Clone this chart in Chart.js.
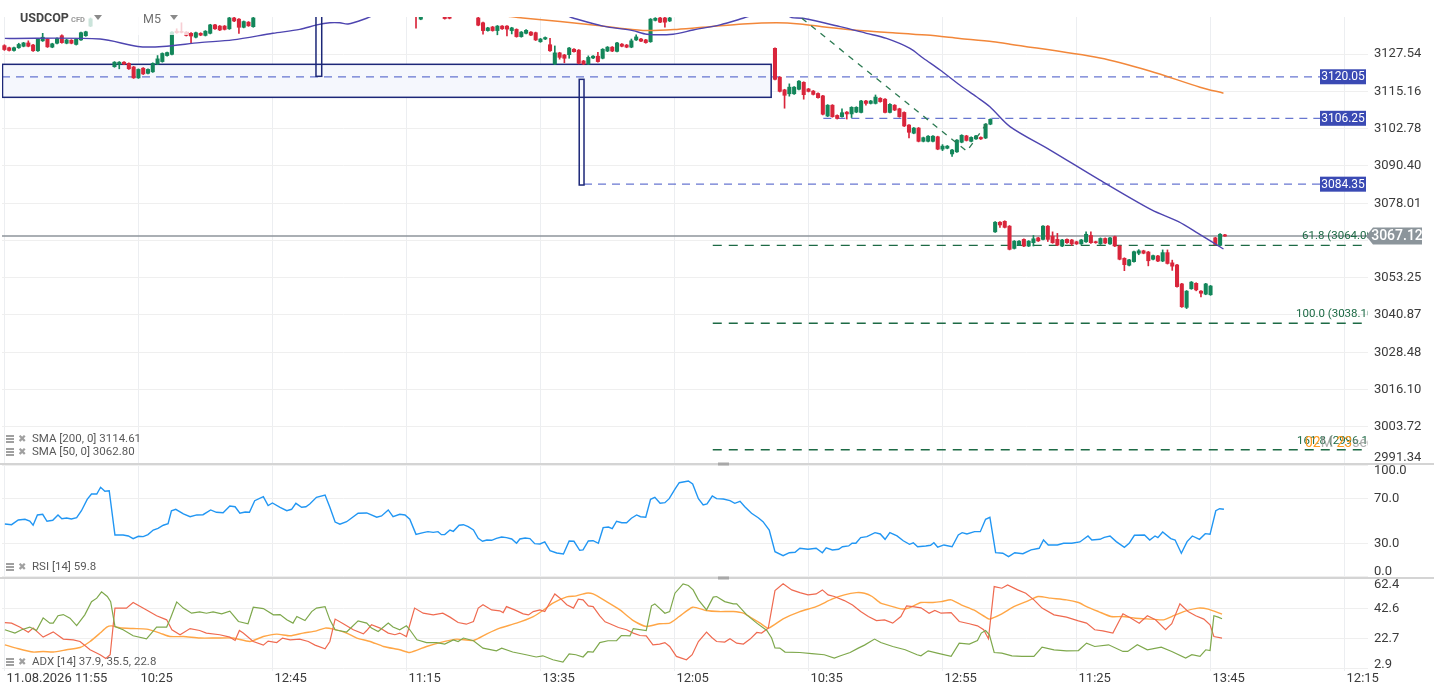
<!DOCTYPE html>
<html>
<head>
<meta charset="utf-8">
<script src="https://cdn.jsdelivr.net/npm/chart.js@4.4.1/dist/chart.umd.min.js"></script>
<style>
  html, body { margin: 0; padding: 0; background: #fff; }
</style>
</head>
<body>
<canvas id="chart" width="1434" height="694"></canvas>
<script>
// 5-minute candle slots (x index) and prices
const candleIdx = [
  0,1,2,3,4,5,6,7,8,9,10,11,12,13,14,15,16,17,18,
  23,24,25,26,27,28,29,30,31,32,33,34,35,36,37,38,39,40,41,42,43,44,45,46,47,48,49,50,51,52,
  86,87,92,93,
  99,100,101,102,103,104,105,106,107,108,109,110,111,112,113,114,115,116,117,118,119,
  120,121,122,123,124,125,126,127,128,129,130,131,132,133,134,135,136,137,138,139,
  161,162,163,164,165,166,167,168,169,170,171,172,173,174,175,176,177,178,179,180,
  181,182,183,184,185,186,187,188,189,190,191,192,193,194,195,196,197,198,199,200,
  201,202,203,204,205,206,207,208,209,210,211,212,213,214,215,216,217,218,219,220,
  221,222,223,224,225,226,227,228,229,230,231,232,233,234,235,236,237,238,239,240,
  241,242,243,244,245,246,247,248,249,250,251,252,253,254,255
];
const opens = [
  3130.4,3129.7,3128.8,3129.7,3130.2,3131.3,3130.6,3128.7,3132.0,3132.6,3129.9,3131.2,3133.7,3131.2,3132.2,3130.8,3132.3,3133.7,3136.9,
  3123.4,3124.2,3124.9,3124.5,3123.3,3119.7,3122.9,3121.2,3121.7,3124.3,3125.1,3127.1,3127.5,3135.2,3135.0,3134.9,3134.5,3133.2,3134.5,3133.8,3134.5,3137.3,3136.9,3136.9,3136.0,3139.6,3139.2,3136.5,3138.2,3136.7,
  3142.0,3139.2,3141.0,3141.0,
  3139.6,3138.0,3135.4,3136.6,3135.4,3136.9,3136.9,3135.4,3135.8,3133.4,3134.5,3134.9,3134.7,3131.7,3132.6,3130.7,3124.3,3128.0,3127.3,3127.4,3129.2,
  3128.9,3125.3,3124.3,3126.3,3126.9,3126.2,3128.6,3129.9,3128.5,3130.9,3130.6,3129.9,3132.3,3132.6,3132.3,3131.7,3138.8,3139.6,3139.6,3138.6,
  3129.5,3119.9,3115.7,3114.4,3114.4,3115.9,3118.2,3116.0,3115.3,3114.5,3113.7,3107.0,3110.6,3107.2,3106.8,3108.3,3107.7,3108.3,3108.2,3112.0,
  3111.2,3111.2,3112.9,3112.6,3108.2,3110.6,3109.4,3108.2,3104.0,3101.3,3103.0,3098.6,3098.6,3098.6,3100.1,3096.0,3096.3,3094.4,3095.1,3098.3,
  3100.4,3098.6,3099.4,3099.9,3099.7,3104.3,3068.5,3071.7,3072.0,3070.4,3063.0,3064.1,3066.0,3063.8,3064.9,3066.5,3066.0,3070.4,3067.1,3066.0,
  3063.8,3066.0,3065.8,3065.2,3064.5,3065.2,3067.3,3065.2,3064.5,3066.3,3064.5,3066.9,3063.8,3059.7,3057.4,3058.6,3061.4,3062.2,3061.8,3059.4,
  3060.5,3058.8,3061.6,3058.2,3057.5,3051.2,3043.4,3049.6,3051.4,3048.8,3047.8,3047.6,3066.5,3064.0,3067.5
];
const highs = [
  3130.7,3129.9,3129.9,3131.2,3131.5,3132.0,3130.8,3132.8,3134.5,3132.8,3131.2,3133.0,3134.0,3132.5,3132.4,3132.7,3134.9,3135.2,3139.6,
  3125.1,3125.1,3125.1,3124.7,3123.5,3122.7,3123.1,3122.7,3124.7,3127.1,3128.0,3128.3,3135.1,3136.0,3138.0,3135.1,3134.7,3134.9,3134.7,3135.4,3137.5,3137.5,3137.1,3137.1,3139.8,3140.5,3139.4,3138.6,3138.4,3139.8,
  3144.0,3142.0,3142.0,3141.8,
  3141.0,3138.2,3136.5,3136.8,3137.1,3137.1,3137.1,3136.5,3136.0,3135.1,3135.7,3135.1,3134.9,3132.8,3133.3,3132.8,3130.3,3128.2,3127.5,3129.8,3129.4,
  3129.1,3125.5,3127.0,3127.1,3128.2,3129.4,3130.1,3130.1,3131.5,3131.1,3130.8,3132.6,3134.0,3132.8,3132.5,3139.4,3139.7,3139.8,3139.8,3139.8,
  3129.7,3120.1,3115.9,3117.7,3116.8,3118.8,3118.4,3116.2,3115.5,3114.7,3113.9,3110.8,3110.8,3107.4,3109.4,3108.5,3110.1,3110.1,3112.2,3112.2,
  3112.2,3114.0,3113.1,3112.8,3111.1,3110.8,3109.6,3108.4,3104.2,3103.2,3103.2,3100.0,3100.5,3100.5,3100.3,3097.5,3097.2,3095.9,3099.2,3100.8,
  3100.6,3100.1,3100.6,3100.1,3104.5,3106.1,3071.9,3071.9,3072.2,3070.6,3065.6,3065.6,3066.2,3065.6,3067.3,3066.7,3070.6,3070.6,3068.5,3068.0,
  3066.0,3066.2,3066.0,3065.4,3066.0,3068.5,3068.5,3065.4,3066.5,3066.5,3066.7,3067.1,3064.0,3059.9,3059.4,3062.1,3062.6,3062.4,3062.0,3060.8,
  3060.7,3062.5,3062.5,3059.1,3057.7,3051.4,3049.0,3052.0,3051.6,3049.0,3051.4,3050.7,3066.7,3067.9,3067.7
];
const lows = [
  3128.8,3128.6,3128.6,3129.5,3130.0,3130.0,3128.5,3128.5,3131.8,3129.8,3129.7,3131.0,3131.2,3131.0,3131.0,3130.6,3132.1,3133.5,3136.7,
  3123.2,3122.7,3124.1,3122.5,3119.5,3119.5,3120.8,3121.0,3121.5,3124.1,3124.9,3126.9,3127.3,3134.5,3134.6,3133.6,3131.2,3133.0,3133.7,3133.6,3134.3,3135.8,3135.4,3135.6,3135.8,3138.4,3134.5,3136.3,3136.8,3136.5,
  3136.2,3139.0,3139.2,3139.3,
  3137.0,3134.2,3135.2,3135.2,3134.0,3135.8,3133.6,3134.3,3133.2,3133.2,3134.3,3133.7,3132.1,3131.5,3132.4,3128.5,3124.1,3125.9,3124.7,3126.2,3128.2,
  3124.3,3124.1,3124.1,3126.1,3124.9,3126.0,3128.4,3128.4,3128.3,3130.0,3129.7,3129.7,3132.1,3131.7,3131.2,3131.5,3138.6,3138.0,3136.5,3138.4,
  3119.0,3115.0,3109.6,3113.6,3114.2,3115.7,3112.6,3115.0,3114.0,3112.9,3107.4,3106.8,3106.6,3106.0,3106.6,3106.0,3106.5,3108.1,3108.0,3110.6,
  3111.0,3111.0,3111.6,3108.0,3108.0,3108.8,3106.6,3103.5,3099.7,3101.1,3098.4,3098.4,3098.4,3098.4,3095.8,3095.5,3096.1,3093.6,3094.9,3098.1,
  3098.7,3098.4,3099.2,3099.2,3099.5,3104.1,3068.3,3070.0,3069.8,3062.5,3062.8,3063.9,3063.6,3063.6,3063.8,3065.3,3065.8,3065.3,3064.7,3063.9,
  3063.6,3064.7,3064.0,3064.3,3064.3,3065.0,3064.7,3064.7,3064.3,3064.6,3064.3,3063.6,3059.2,3055.6,3057.2,3058.4,3060.9,3061.2,3057.2,3059.2,
  3058.6,3058.6,3057.8,3055.7,3050.1,3043.4,3043.0,3049.4,3048.9,3046.9,3047.6,3047.4,3064.1,3063.8,3067.0
];
const closes = [
  3129.1,3128.8,3129.7,3130.8,3131.3,3130.2,3128.7,3132.6,3133.2,3130.0,3131.0,3132.8,3131.4,3132.3,3131.2,3132.5,3134.7,3135.0,3139.3,
  3124.9,3124.9,3124.3,3122.7,3119.7,3122.5,3121.0,3122.5,3124.5,3126.0,3127.8,3128.1,3134.9,3134.7,3134.8,3133.8,3133.6,3134.7,3133.9,3135.2,3137.3,3136.0,3135.6,3135.8,3139.6,3138.6,3136.5,3138.4,3137.0,3139.6,
  3140.5,3141.0,3139.4,3139.5,
  3137.2,3135.4,3136.3,3135.4,3136.9,3136.0,3135.9,3136.3,3133.4,3134.9,3135.5,3133.9,3132.3,3132.6,3133.1,3128.7,3128.0,3126.5,3126.2,3129.6,3128.4,
  3124.5,3124.3,3126.5,3126.9,3125.1,3129.2,3129.9,3128.6,3131.3,3130.2,3129.9,3132.0,3133.3,3131.9,3131.4,3139.2,3139.5,3138.2,3138.2,3139.6,
  3119.2,3115.2,3113.9,3116.6,3116.6,3118.6,3114.1,3115.2,3114.2,3113.1,3107.6,3110.6,3106.8,3106.2,3108.1,3107.7,3109.9,3109.9,3112.0,3111.2,
  3112.0,3113.3,3111.8,3108.2,3110.9,3109.0,3106.8,3103.7,3101.6,3103.0,3098.6,3099.8,3100.3,3100.3,3096.0,3097.0,3097.0,3095.7,3099.0,3100.6,
  3098.9,3099.9,3100.4,3099.4,3104.3,3105.9,3071.7,3070.8,3070.0,3062.7,3065.4,3065.4,3063.8,3065.4,3066.2,3065.5,3070.4,3066.0,3064.9,3064.1,
  3065.8,3064.9,3064.5,3064.5,3065.8,3067.7,3064.9,3064.9,3066.3,3064.8,3066.5,3063.8,3059.4,3057.6,3059.2,3061.9,3062.2,3061.4,3058.9,3060.6,
  3058.8,3061.6,3058.0,3057.1,3050.3,3043.6,3048.8,3051.8,3049.2,3048.1,3051.2,3050.5,3064.3,3067.7,3067.1
];

// moving averages: [slot, price], null = off the top
const sma50 = [
  [0.1,3132.8],[20,3132.6],[27.9,3130.1],[33.1,3130.1],[40.8,3131.4],[47.7,3132.3],[56.1,3134.5],[61.7,3135.8],
  [65.3,3137.3],[68,3138.0],[70.1,3138.0],[71.8,3137.6],[75.7,3139.5],[76.8,3140.3],[97,null],
  [117.7,3140.3],[118.8,3139.6],[125.1,3136.9],[131.3,3135.4],[134.2,3134.2],[139.7,3134.2],[143.9,3135.6],
  [149.5,3137.3],[154.3,3139.5],[155.8,3140.3],[160,null],
  [163.7,3140.3],[164.5,3139.7],[166.8,3139.5],[174.6,3136.7],[180.1,3134.5],[184.3,3132.8],[189.2,3129.5],
  [192,3126.2],[195.5,3122.3],[199.6,3117.3],[203.1,3113.4],[205.9,3110.1],[210.1,3103.5],[218.5,3095.7],
  [228.9,3085.7],[239.7,3075.8],[245.3,3071.9],[249.4,3068.0],[254.7,3062.8]
];
const sma200 = [
  [104.6,3140.3],[108.3,3139.6],[116.1,3138.4],[123,3137.3],[128.6,3136.2],[134.2,3135.4],[140.5,3135.8],
  [147.4,3136.7],[154.3,3137.6],[161.3,3138.0],[166.2,3137.6],[171.8,3136.5],[178.7,3135.4],[185.6,3134.7],
  [192.7,3133.9],[199.6,3132.8],[206.6,3131.7],[210.1,3130.9],[228.9,3126.3],[239.3,3122.0],[249.8,3116.6],[254.7,3114.6]
];

const rsi = [
  [0.1,47.4],[1.5,46.8],[2.9,51.0],[4.3,51.7],[5.3,50.1],[6,46.3],[6.9,55.6],[8,56.2],[8.9,49.9],[10.1,50.8],
  [11.2,55.6],[12,52.2],[13,52.8],[14,51.9],[15.1,53.1],[16.1,59.4],[17.3,69.7],[18.2,74.5],[19.3,74.5],[20.1,80.6],
  [21,77.0],[21.9,77.5],[23.1,37.5],[24.8,37.5],[25.9,36.6],[26.9,34.2],[28,36.3],[29,36.0],[30,37.8],[31.1,42.0],
  [32.1,43.5],[33.2,46.3],[34.2,47.7],[34.9,59.4],[35.8,60.7],[37.4,56.5],[38.8,54.0],[40.2,55.6],[41.5,55.8],[43.1,60.1],
  [44.3,58.0],[45.7,57.6],[47.1,63.7],[48.2,63.0],[49.2,57.1],[50.3,58.3],[51.2,58.0],[52.3,68.5],[54.1,72.1],[55.1,64.0],
  [56,66.4],[57.6,62.5],[59,59.4],[60,60.7],[60.9,66.1],[62.1,62.5],[63,63.0],[63.8,65.5],[65.2,71.5],[67,73.6],
  [68,62.5],[69.1,49.2],[70.1,47.2],[71.5,49.5],[73.9,57.1],[75.7,57.4],[77.8,53.5],[78.8,54.7],[80.2,60.1],[81.2,54.0],
  [82.6,56.2],[83.7,55.6],[84.7,51.7],[86,38.1],[87.5,39.6],[88.5,40.5],[89.6,39.9],[90.6,40.5],[91.3,37.8],[92,37.8],
  [93.1,42.0],[93.8,40.8],[95,46.3],[95.9,46.8],[96.9,45.0],[98,42.0],[99,34.5],[99.9,31.8],[100.8,33.0],[101.8,32.7],
  [102.8,34.5],[103.9,35.7],[104.9,35.1],[106,33.9],[107,30.0],[107.7,33.9],[108.8,34.8],[109.8,34.2],[110.8,29.7],[111.9,29.4],
  [112.9,31.2],[114,23.3],[115.4,21.2],[116.8,20.3],[118,32.1],[119,31.8],[120.2,23.7],[120.9,24.0],[122,32.1],[123,32.3],
  [124.1,30.0],[125.1,44.1],[126.2,44.7],[127,43.2],[127.9,49.9],[129,48.6],[130,48.6],[131,52.6],[132.1,55.6],[132.9,54.0],
  [134,53.5],[135,69.7],[135.9,71.5],[137,66.1],[138,66.7],[138.9,70.3],[140.1,79.0],[141,84.7],[142.9,86.3],[143.8,83.5],
  [145,70.3],[146,64.6],[146.8,65.5],[147.9,72.7],[148.8,70.3],[150.2,70.0],[151.6,68.5],[152.6,66.1],[153.7,67.9],[154.7,63.0],
  [156.1,57.1],[157.5,53.1],[158.5,49.5],[159.8,42.0],[161,22.4],[162.7,18.8],[164,21.5],[165.2,21.9],[166.2,25.5],[167.9,24.6],
  [169.6,25.5],[170.9,21.5],[171.7,25.8],[173,24.0],[174.3,24.6],[175.1,26.9],[176.4,27.6],[177.1,30.0],[177.9,30.0],[178.9,35.1],
  [180.2,36.0],[181.9,39.6],[183,38.4],[184,33.6],[185,39.6],[186.5,36.6],[187.8,32.3],[189.1,29.1],[189.9,30.5],[190.8,26.9],
  [192.5,27.6],[193.5,28.2],[194.2,30.5],[195,26.4],[196.3,28.5],[198,26.9],[199.3,37.5],[200.1,39.6],[201.1,38.4],[202.7,40.5],
  [203.9,40.5],[205,51.7],[205.9,53.5],[207.1,21.5],[208.6,21.0],[209.8,17.9],[211.1,21.5],[212.8,20.6],[214.5,24.0],[216.2,25.5],
  [217.1,33.0],[218.1,28.5],[220,28.5],[221.3,30.0],[223,30.0],[224.7,31.2],[226.4,36.6],[227.2,33.0],[228.9,33.6],[229.8,35.4],
  [231,36.6],[232.3,31.5],[234,26.4],[235,30.0],[236.1,37.2],[238.2,37.5],[239.3,33.0],[240.4,36.6],[241,35.1],[242,40.2],
  [243.7,34.2],[244.6,33.0],[245.9,21.0],[247.1,31.5],[248.2,36.6],[249.7,33.6],[250.9,38.7],[251.9,38.1],[253.1,59.4],[253.9,61.2],
  [254.8,60.7]
];

const adx = [
  [0.1,18.5],[2.5,16.3],[6,13.7],[8.1,14.1],[10.2,13.7],[13,15.2],[15.8,16.7],[17.9,20.7],[20,26.3],[21.4,30.3],
  [22.4,31.1],[24.1,29.8],[26.9,29.3],[29.7,28.9],[32.5,26.3],[34.6,24.0],[37.4,24.0],[40.8,23.0],[44.3,23.0],[47.8,23.0],
  [51.3,20.7],[54.1,24.0],[56.9,25.6],[59.7,24.5],[62.4,26.3],[65.2,27.8],[67,29.6],[68.7,28.9],[71.5,26.3],[73.6,23.0],
  [76.4,20.7],[79.2,17.4],[82.6,15.2],[84.7,13.4],[88.2,17.4],[91,20.0],[94.5,22.3],[98,21.4],[100.8,25.8],[103.5,29.6],
  [107,32.9],[110.5,37.3],[112.5,41.3],[114.6,46.2],[117.5,50.4],[119.5,51.0],[121.5,52.8],[123,52.3],[125.8,47.2],[128.6,41.7],
  [131.4,34.6],[134.1,30.7],[136.9,32.5],[139,32.9],[141,37.3],[143.8,43.5],[146.6,41.3],[149.3,40.6],[152.3,40.6],[154.4,39.5],
  [156.5,35.6],[157.9,32.9],[159.6,29.6],[162.7,35.8],[166.2,40.6],[169.6,43.9],[172.9,48.8],[175.5,51.7],[178,53.2],[179.7,52.8],
  [181.3,50.6],[183.1,46.2],[185.6,43.9],[187.3,42.4],[188.9,42.9],[191.5,46.6],[194,46.6],[195.7,47.2],[197.8,48.4],[199.9,45.1],
  [202.5,41.7],[205,36.9],[205.8,35.6],[208.4,39.1],[210.9,43.9],[213.5,47.2],[216,50.6],[218.6,49.5],[221.9,48.4],[224.4,46.6],
  [226.1,43.9],[228.6,40.6],[231.2,37.3],[233.7,37.3],[236.3,36.2],[239.6,35.6],[242.2,35.1],[243.9,37.3],[246.4,40.6],[249.4,42.9],
  [251.5,42.2],[254.4,38.9]
];
const plusDI = [
  [0.1,28.5],[2.2,26.3],[3.6,28.5],[5.3,30.3],[6.7,28.0],[8.1,36.4],[9.5,32.9],[10.2,32.9],[11.2,37.8],[12.3,38.6],
  [13.7,36.2],[15.1,31.3],[16.8,38.4],[18.2,47.2],[19.3,49.5],[20.3,53.7],[21.5,50.6],[22.2,47.2],[23.1,30.7],[24.8,28.5],
  [26.9,24.5],[29.7,22.5],[31.8,30.3],[33.9,30.3],[34.7,36.2],[36,47.0],[37.4,42.9],[39.1,39.5],[40.8,40.4],[42.2,39.5],
  [43.6,40.4],[45.4,39.1],[47.1,40.9],[48.9,34.0],[50.9,32.5],[52,43.5],[54.1,42.6],[56.2,38.4],[57.6,38.6],[59,35.1],
  [60.3,32.9],[61.1,37.3],[62.8,34.6],[64.2,40.6],[65.2,42.9],[67,43.9],[68,35.1],[69.1,28.5],[71.5,27.0],[73.9,34.4],
  [75.7,32.9],[76.7,29.6],[78.1,27.3],[80.2,32.9],[81.2,30.3],[82.6,28.5],[84,31.1],[84.7,28.5],[86.2,21.8],[88.2,20.0],
  [90.3,20.0],[92,19.0],[93.8,21.8],[94.8,20.7],[95.9,23.0],[98,21.2],[100,16.3],[102.8,14.5],[103.9,16.3],[106.2,13.7],
  [109,11.9],[111.1,10.4],[112.5,11.2],[114.6,8.6],[116.7,7.0],[118,12.4],[119.4,11.9],[120.9,10.4],[121.9,13.9],[123,13.7],
  [124.4,20.0],[126.1,21.2],[127.9,21.2],[128.9,24.7],[130.7,24.5],[131.4,29.3],[134.1,28.0],[135.2,44.4],[135.9,45.7],[138,39.5],
  [139,40.6],[140.1,52.8],[141.8,59.0],[142.9,57.9],[143.9,55.0],[145,48.4],[146.7,41.7],[148.1,50.2],[148.8,50.6],[150.5,47.2],
  [152.3,45.7],[153,45.7],[155.1,38.4],[157.2,32.9],[159.3,28.0],[160.3,23.0],[161,16.5],[162,16.3],[163.1,13.7],[166.2,13.4],
  [168.7,12.6],[171.3,11.9],[173.4,9.7],[174.7,11.2],[176.7,13.4],[178.4,16.3],[179.7,18.3],[181.8,22.3],[183.1,20.0],[185.6,17.4],
  [188.2,15.2],[190.7,11.9],[191.5,11.2],[193,14.5],[194.9,13.0],[197.8,10.8],[199.5,19.6],[201.6,19.0],[203.3,21.4],[204.1,26.3],
  [205,28.0],[205.8,25.2],[206.8,13.4],[208.4,13.0],[210.5,11.2],[212.6,10.8],[215.1,10.8],[216.8,17.0],[219.3,15.2],[221.9,14.5],
  [224.4,14.7],[226.1,19.6],[227.8,17.4],[230.7,18.5],[233.7,14.1],[234.7,14.1],[236.7,18.5],[238.8,15.2],[241.7,17.0],[243.9,14.1],
  [246.8,9.7],[248.1,11.9],[249.8,10.8],[251,15.2],[251.9,14.7],[252.7,37.8],[253.6,36.9],[254.4,35.8]
];
const minusDI = [
  [0.1,33.3],[1.5,32.9],[3.2,30.3],[5,26.9],[6,29.6],[8.1,23.6],[10.2,27.1],[12.3,22.3],[14.4,21.8],[15.8,20.7],
  [17.9,15.2],[20,11.9],[21.2,9.4],[22.1,11.9],[23.1,42.9],[25.5,42.9],[26.9,46.6],[29.7,41.7],[31.8,37.8],[33.9,35.1],
  [35,28.5],[36.7,25.2],[38.8,29.3],[40.8,28.0],[42.2,26.3],[45,25.2],[47.1,23.6],[48.2,21.4],[49.1,28.0],[49.9,26.3],
  [52,20.7],[54.1,18.3],[55.1,21.0],[56.9,20.0],[58.1,23.0],[59.7,21.8],[61.7,22.3],[63.5,20.7],[64.9,18.3],[67,15.9],
  [68,20.7],[69.1,35.6],[70.8,32.5],[72.9,28.5],[75,25.8],[75.7,28.0],[76.7,31.8],[78.5,29.6],[80.2,26.3],[81.6,25.2],
  [82.6,26.3],[84,24.0],[85.7,42.9],[87.5,39.5],[89.6,38.4],[91.6,39.5],[93.1,36.9],[94.8,33.3],[96.5,32.2],[98,34.0],
  [99,42.9],[100,45.1],[101.8,41.7],[103.5,41.1],[104.2,39.9],[104.9,43.9],[106.6,41.7],[108.4,39.1],[109.5,38.4],[110.5,40.6],
  [111.9,41.7],[112.9,40.6],[115,52.3],[116.1,49.5],[117.5,45.1],[118.9,42.9],[119.9,48.8],[120.9,48.4],[122,44.4],[123,43.9],
  [124.4,37.8],[125.5,33.8],[126.5,32.5],[128.3,30.0],[130,28.5],[131.4,26.3],[132.8,24.7],[134.1,24.5],[135.5,18.5],[136.9,19.0],
  [138,20.0],[139,17.4],[140.4,10.8],[142.5,8.6],[143.7,11.9],[145,20.7],[146.7,26.9],[147.8,23.4],[148.8,20.7],[150.5,20.3],
  [151.6,22.5],[153,19.6],[154.4,19.0],[155.8,22.3],[157.2,26.7],[158.2,26.3],[159.6,29.6],[161,54.5],[162.7,59.0],[164.5,55.0],
  [166.2,53.2],[167.9,51.7],[169.6,52.3],[170.9,55.0],[172.1,51.7],[173.4,50.6],[175.5,47.9],[177.2,44.9],[178.9,40.6],[180.5,37.3],
  [182.2,34.6],[183.9,35.1],[185.6,32.9],[187.3,37.3],[188.5,44.4],[189.8,43.9],[191.5,43.1],[193.2,39.5],[194.4,41.3],[195.7,39.5],
  [197.8,39.9],[199.5,34.0],[201.6,32.5],[203.3,31.1],[204.6,28.5],[205.6,22.5],[206.8,57.2],[208.4,56.1],[209.6,58.3],[211.7,55.0],
  [213.4,52.8],[215.1,48.4],[216.8,42.9],[219.3,38.4],[221.9,36.9],[224.4,34.4],[226.1,32.9],[227.8,28.5],[229.5,27.8],[231.6,26.3],
  [233.7,39.1],[235.4,36.2],[237.1,32.9],[238.8,37.8],[240.5,35.1],[242.6,28.5],[243.9,32.5],[245.6,45.7],[247.3,40.6],[248.9,37.8],
  [250.6,35.6],[251.9,31.8],[252.7,24.0],[254.4,23.0]
];

// axes
const xTickIdx = [0, 28, 56, 84, 112, 140, 168, 196, 224, 252, 280];
const xTickLabels = ['11.08.2026 11:55', '10:25', '12:45', '11:15', '13:35', '12:05', '10:35', '12:55', '11:25', '13:45', '12:15'];
const priceTicks = ['2991.34', '3003.72', '3016.10', '3028.48', '3040.87', '3053.25', '3065.63', '3078.01', '3090.40', '3102.78', '3115.16', '3127.54'];
const rsiTicks = ['0.0', '30.0', '70.0', '100.0'];
const adxTicks = ['2.9', '22.7', '42.6', '62.4'];

// drawings on the price panel
const lastPrice = 3067.12;
const levels = [3120.05, 3106.25, 3084.35];
const levelFrom = [-0.5, 171.1, 121.1];
const fibLevels = [3064.0, 3038.1, 2996.1];
const fibLabels = ['61.8 (3064.00)', '100.0 (3038.10)', '161.8 (2996.10)'];
const fibFrom = 148;
const zoneSlots = [-0.5, 160.1];
const zonePrices = [3113.22, 3124.19];
const gapBoxes = [[65.1, 66.3, 3120.2, 3146], [120.1, 121.1, 3084.07, 3119.2]];
const trendLine = [[166.6, 3139.5], [201.1, 3095.3], [205.9, 3106.0]];
const countdown = [['02', '#ff9a1f'], ['M ', 'rgba(150,150,150,0.75)'], ['23', '#ff9a1f'], ['seg', 'rgba(150,150,150,0.75)']];
const legends = [
  ['y', 'SMA [200, 0] 3114.61', 439],
  ['y', 'SMA [50, 0] 3062.80', 452],
  ['rsi', 'RSI [14] 59.8', 567],
  ['adx', 'ADX [14] 37.9, 35.5, 22.8', 662]
];

const up = '#13865a', down = '#d9253b';
const candleColors = opens.map((o, k) => closes[k] >= o ? up : down);
const pts = a => a.map(p => ({x: p[0], y: p[1]}));

const panelClip = {
  id: 'panelClip',
  beforeDatasetDraw(chart, args) {
    const s = chart.scales[args.meta.yAxisID];
    const a = chart.chartArea;
    chart.ctx.save();
    chart.ctx.beginPath();
    chart.ctx.rect(a.left, s.top, a.right - a.left, s.bottom - s.top);
    chart.ctx.clip();
  },
  afterDatasetDraw(chart) { chart.ctx.restore(); }
};

function clipMain(chart) {
  const a = chart.chartArea, s = chart.scales.y, ctx = chart.ctx;
  ctx.save();
  ctx.beginPath();
  ctx.rect(a.left, s.top, a.right - a.left, s.bottom - s.top);
  ctx.clip();
}

function hLine(ctx, x0, x1, y, color, width, dash) {
  ctx.save();
  ctx.strokeStyle = color;
  ctx.lineWidth = width;
  ctx.setLineDash(dash || []);
  ctx.beginPath();
  ctx.moveTo(x0, y);
  ctx.lineTo(x1, y);
  ctx.stroke();
  ctx.restore();
}

const drawings = {
  id: 'drawings',
  beforeDatasetsDraw(chart) {
    const {ctx, chartArea: a} = chart;
    const x = chart.scales.x, y = chart.scales.y;
    clipMain(chart);
    // zone box
    const zx0 = x.getPixelForValue(zoneSlots[0]), zx1 = x.getPixelForValue(zoneSlots[1]);
    const zy0 = y.getPixelForValue(zonePrices[1]), zy1 = y.getPixelForValue(zonePrices[0]);
    ctx.fillStyle = '#f5f7fd';
    ctx.fillRect(zx0, zy0, zx1 - zx0, zy1 - zy0);
    // horizontal levels
    levels.forEach((p, k) => {
      hLine(ctx, x.getPixelForValue(levelFrom[k]), a.right - 48, y.getPixelForValue(p), 'rgba(66,84,196,0.8)', 1.3, [8, 6]);
    });
    ctx.strokeStyle = '#1c2778';
    ctx.lineWidth = 1.5;
    ctx.strokeRect(zx0 + 0.5, zy0, zx1 - zx0, zy1 - zy0);
    // fibonacci levels
    fibLevels.forEach(p => {
      hLine(ctx, x.getPixelForValue(fibFrom), a.right, y.getPixelForValue(p), '#1d6a45', 1.4, [9, 7]);
    });
    // last price
    hLine(ctx, a.left, a.right, y.getPixelForValue(lastPrice), '#8e959b', 1.3);
    ctx.restore();
  },
  afterDatasetsDraw(chart) {
    const {ctx, chartArea: a} = chart;
    const x = chart.scales.x, y = chart.scales.y;
    clipMain(chart);
    // gap markers
    ctx.strokeStyle = '#1c2778';
    ctx.lineWidth = 1.5;
    gapBoxes.forEach(b => {
      const bx0 = x.getPixelForValue(b[0]), bx1 = x.getPixelForValue(b[1]);
      const by0 = y.getPixelForValue(b[3]), by1 = y.getPixelForValue(b[2]);
      ctx.strokeRect(bx0, by0, bx1 - bx0, by1 - by0);
    });
    // dashed trend line
    ctx.save();
    ctx.strokeStyle = '#2c7a52';
    ctx.lineWidth = 1.3;
    ctx.setLineDash([6, 6]);
    ctx.beginPath();
    trendLine.forEach((p, k) => {
      const px = x.getPixelForValue(p[0]), py = y.getPixelForValue(p[1]);
      if (k === 0) ctx.moveTo(px, py); else ctx.lineTo(px, py);
    });
    ctx.stroke();
    ctx.restore();
    // fib labels
    ctx.font = '11.5px Roboto';
    ctx.fillStyle = '#1d6a45';
    ctx.textAlign = 'left';
    ctx.textBaseline = 'middle';
    const fibOffsets = [66, 72, 71];
    fibLevels.forEach((p, k) => {
      ctx.fillText(fibLabels[k], a.right - fibOffsets[k], y.getPixelForValue(p) - 9);
    });
    // countdown
    ctx.font = '14px Roboto';
    let tx = a.right - 63;
    const ty = y.getPixelForValue(fibLevels[2]) - 6;
    countdown.forEach(([t, c]) => {
      ctx.fillStyle = c;
      ctx.fillText(t, tx, ty);
      tx += ctx.measureText(t).width;
    });
    ctx.restore();

    // level tags
    ctx.save();
    ctx.font = '12px Roboto';
    ctx.textAlign = 'center';
    ctx.textBaseline = 'middle';
    levels.forEach(p => {
      const py = y.getPixelForValue(p);
      ctx.fillStyle = '#3a4ab4';
      ctx.fillRect(a.right - 48, py - 7.5, 46, 15);
      ctx.fillStyle = '#fff';
      ctx.fillText(p.toFixed(2), a.right - 25, py + 0.5);
    });
    ctx.restore();

    // header
    ctx.save();
    ctx.fillStyle = 'rgba(255,255,255,0.78)';
    ctx.fillRect(14, 6, 92, 23);
    ctx.fillRect(134, 6, 54, 29);
    ctx.textBaseline = 'middle';
    ctx.textAlign = 'left';
    ctx.font = 'bold 12.5px Roboto';
    ctx.fillStyle = '#454545';
    ctx.fillText('USDCOP', 20, 19);
    ctx.font = 'bold 7.5px Roboto';
    ctx.fillStyle = '#9a9a9a';
    ctx.fillText('CFD', 71, 20);
    ctx.font = '12.5px Roboto';
    ctx.fillStyle = '#707070';
    ctx.fillText('M5', 143, 20);
    ctx.fillStyle = '#8a8a8a';
    [[94, 15], [170, 15]].forEach(([tx0, ty0]) => {
      ctx.beginPath();
      ctx.moveTo(tx0, ty0);
      ctx.lineTo(tx0 + 8, ty0);
      ctx.lineTo(tx0 + 4, ty0 + 5);
      ctx.closePath();
      ctx.fill();
    });
    ctx.restore();

    // panel separators
    ctx.save();
    ['rsi', 'adx'].forEach(id => {
      const sy = chart.scales[id].top;
      hLine(ctx, 0, chart.width, sy, '#d4d4d4', 2);
      hLine(ctx, 718, 729, sy, '#a8a8a8', 3);
    });
    ctx.restore();

    // legends
    ctx.save();
    ctx.textBaseline = 'middle';
    legends.forEach(([id, text, ly]) => {
      ctx.fillStyle = '#a0a0a0';
      ctx.fillRect(6, ly - 4, 8, 2);
      ctx.fillRect(6, ly - 1, 8, 2);
      ctx.fillRect(6, ly + 2, 8, 2);
      ctx.font = '10px "DejaVu Sans"';
      ctx.fillText('\u2716', 18, ly);
      ctx.font = '11.5px Roboto';
      ctx.fillStyle = '#5a5a5a';
      ctx.fillText(text, 32, ly);
    });
    ctx.restore();

    // axis labels
    ctx.save();
    ctx.font = '13px Roboto';
    ctx.fillStyle = '#3b3b3b';
    ctx.textAlign = 'left';
    ctx.textBaseline = 'middle';
    [['y', priceTicks], ['rsi', rsiTicks], ['adx', adxTicks]].forEach(([id, labels]) => {
      const s = chart.scales[id];
      labels.forEach(t => {
        let py = s.getPixelForValue(parseFloat(t));
        py = Math.min(Math.max(py, s.top + 7), s.bottom - 6);
        ctx.fillText(t, a.right + 6, py);
      });
    });
    xTickIdx.forEach((v, k) => {
      ctx.fillText(xTickLabels[k], x.getPixelForValue(v) + 2, a.bottom + 8);
    });
    ctx.restore();

    // last price tag
    ctx.save();
    const py = y.getPixelForValue(lastPrice);
    ctx.fillStyle = '#8c959b';
    ctx.beginPath();
    ctx.moveTo(a.right - 2, py);
    ctx.lineTo(a.right + 5, py - 8.5);
    ctx.lineTo(a.right + 54, py - 8.5);
    ctx.lineTo(a.right + 54, py + 8.5);
    ctx.lineTo(a.right + 5, py + 8.5);
    ctx.closePath();
    ctx.fill();
    ctx.fillStyle = '#fff';
    ctx.font = '500 14px Roboto';
    ctx.textAlign = 'center';
    ctx.textBaseline = 'middle';
    ctx.fillText(lastPrice.toFixed(2), a.right + 29, py + 0.5);
    ctx.restore();
  }
};

const hiddenAxis = {
  ticks: {display: false},
  border: {display: false}
};

new Chart(document.getElementById('chart'), {
  type: 'bar',
  data: {
    datasets: [
      {type: 'line', label: 'SMA 50', data: pts(sma50), yAxisID: 'y', borderColor: '#4e45b0', borderWidth: 1.4, pointRadius: 0, tension: 0.3, spanGaps: false},
      {type: 'line', label: 'SMA 200', data: pts(sma200), yAxisID: 'y', borderColor: '#f2873a', borderWidth: 1.5, pointRadius: 0, tension: 0.3},
      {label: 'body', data: candleIdx.map((v, k) => ({x: v, y: [opens[k], closes[k]]})), yAxisID: 'y',
        backgroundColor: candleColors, barThickness: 3.4, grouped: false, minBarLength: 1, borderWidth: 0},
      {label: 'wick', data: candleIdx.map((v, k) => ({x: v, y: [lows[k], highs[k]]})), yAxisID: 'y',
        backgroundColor: candleColors, barThickness: 1, grouped: false, borderWidth: 0},
      {type: 'line', label: 'RSI', data: pts(rsi), yAxisID: 'rsi', borderColor: '#2196f3', borderWidth: 1.4, pointRadius: 0},
      {type: 'line', label: '+DI', data: pts(plusDI), yAxisID: 'adx', borderColor: '#7ea84c', borderWidth: 1.2, pointRadius: 0},
      {type: 'line', label: '-DI', data: pts(minusDI), yAxisID: 'adx', borderColor: '#ef6a50', borderWidth: 1.2, pointRadius: 0},
      {type: 'line', label: 'ADX', data: pts(adx), yAxisID: 'adx', borderColor: '#ffa646', borderWidth: 1.4, pointRadius: 0, tension: 0.2}
    ]
  },
  options: {
    responsive: false,
    animation: false,
    events: [],
    layout: {padding: {left: 2, top: 17, right: 66, bottom: 23}},
    plugins: {legend: {display: false}, tooltip: {enabled: false}},
    scales: {
      x: {
        type: 'linear', min: -0.5, max: 284.9, offset: false,
        afterBuildTicks: s => { s.ticks = xTickIdx.map(v => ({value: v})); },
        grid: {color: '#eceef1', drawTicks: false, offset: false},
        ...hiddenAxis
      },
      y: {
        position: 'right', stack: 'panels', stackWeight: 447,
        min: 2991.34, max: 3139.92,
        afterBuildTicks: s => { s.ticks = priceTicks.map(t => ({value: parseFloat(t)})); },
        grid: {color: '#efefef', drawTicks: false},
        ...hiddenAxis
      },
      rsi: {
        position: 'right', stack: 'panels', stackWeight: 114,
        min: -1.35, max: 101.6,
        afterBuildTicks: s => { s.ticks = rsiTicks.map(t => ({value: parseFloat(t)})); },
        grid: {color: '#efefef', drawTicks: false},
        ...hiddenAxis
      },
      adx: {
        position: 'right', stack: 'panels', stackWeight: 93,
        min: 1.1, max: 62.9,
        afterBuildTicks: s => { s.ticks = adxTicks.map(t => ({value: parseFloat(t)})); },
        grid: {color: '#efefef', drawTicks: false},
        ...hiddenAxis
      }
    }
  },
  plugins: [panelClip, drawings]
});
</script>
</body>
</html>
